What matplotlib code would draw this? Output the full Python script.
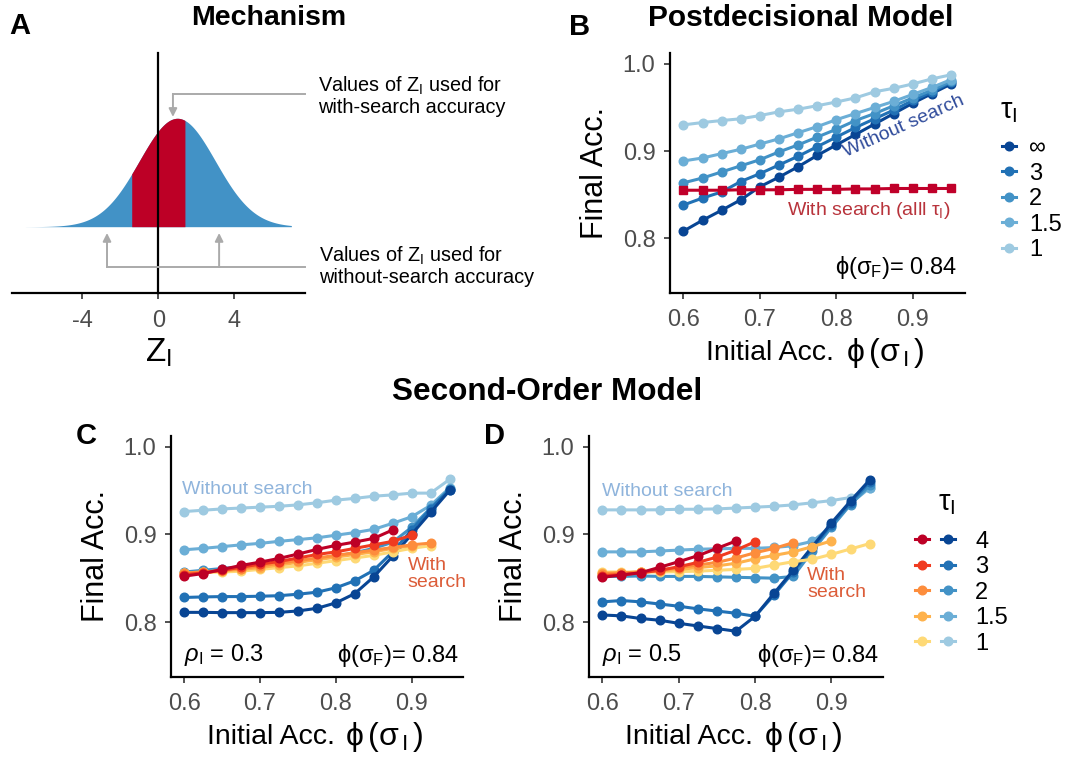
import numpy as np
import matplotlib.pyplot as plt
from matplotlib.lines import Line2D
from matplotlib.legend_handler import HandlerTuple

plt.rcParams['font.family'] = ['Liberation Sans', 'DejaVu Sans']
plt.rcParams['mathtext.fontset'] = 'custom'
plt.rcParams['mathtext.rm'] = 'Liberation Sans'
plt.rcParams['mathtext.it'] = 'Liberation Sans:italic'
plt.rcParams['mathtext.bf'] = 'Liberation Sans:bold'

W, H = 1074, 759

# ---- data ----
init_acc = [0.6, 0.625, 0.65, 0.675, 0.7, 0.725, 0.75, 0.775,
            0.8, 0.825, 0.85, 0.875, 0.9, 0.925, 0.95]

# mechanism sketch: distribution of Z_I and the with-search band
z_mean, z_sd = 1.0, 2.0
z_lo, z_hi = -7.0, 7.0
band_lo, band_hi = -1.4, 1.4

# postdecisional model
tau_post = ['∞', '3', '2', '1.5', '1']
post_tau_inf = [0.808, 0.8205, 0.832, 0.844, 0.859, 0.870, 0.882, 0.895,
                0.907, 0.919, 0.931, 0.943, 0.955, 0.966, 0.977]
post_tau_3 = [0.838, 0.846, 0.853, 0.865, 0.874, 0.884, 0.894, 0.905,
              0.916, 0.927, 0.937, 0.947, 0.958, 0.968, 0.979]
post_tau_2 = [0.8635, 0.869, 0.876, 0.883, 0.890, 0.899, 0.907, 0.916,
              0.925, 0.935, 0.943, 0.952, 0.961, 0.970, 0.980]
post_tau_15 = [0.8886, 0.892, 0.897, 0.902, 0.908, 0.914, 0.921, 0.928,
               0.936, 0.943, 0.950, 0.957, 0.965, 0.973, 0.982]
post_tau_1 = [0.930, 0.9327, 0.935, 0.937, 0.9407, 0.945, 0.948, 0.952,
              0.9563, 0.961, 0.968, 0.972, 0.977, 0.9828, 0.9875]
post_search = [0.855, 0.855, 0.855, 0.8555, 0.8555, 0.8555, 0.856, 0.856,
               0.856, 0.8565, 0.8565, 0.857, 0.857, 0.857, 0.857]

# second-order model
tau_second = ['4', '3', '2', '1.5', '1']
c_nosearch_4 = [0.811, 0.811, 0.8107, 0.8107, 0.8107, 0.811, 0.8126, 0.8156,
                0.8218, 0.8324, 0.8515, 0.875, 0.900, 0.925, 0.950]
c_nosearch_3 = [0.828, 0.8286, 0.829, 0.829, 0.8294, 0.830, 0.8317, 0.834,
                0.839, 0.847, 0.859, 0.880, 0.905, 0.929, 0.951]
c_nosearch_2 = [0.857, 0.859, 0.861, 0.863, 0.865, 0.867, 0.869, 0.872,
                0.875, 0.879, 0.884, 0.891, 0.908, 0.930, 0.952]
c_nosearch_15 = [0.8824, 0.884, 0.886, 0.888, 0.8897, 0.892, 0.894, 0.896,
                 0.899, 0.902, 0.9057, 0.9126, 0.920, 0.933, 0.953]
c_nosearch_1 = [0.926, 0.9275, 0.929, 0.930, 0.931, 0.932, 0.9336, 0.936,
                0.939, 0.941, 0.9435, 0.945, 0.947, 0.947, 0.9626]
c_search_4 = [0.8523, 0.8553, 0.860, 0.8645, 0.8683, 0.8725, 0.8775, 0.8828,
              0.8874, 0.8912, 0.8954, 0.905]
c_search_3 = [0.854, 0.856, 0.859, 0.8625, 0.866, 0.869, 0.873, 0.877,
              0.880, 0.884, 0.888, 0.892, 0.899]
c_search_2 = [0.856, 0.857, 0.859, 0.861, 0.864, 0.867, 0.870, 0.873,
              0.876, 0.879, 0.882, 0.885, 0.888, 0.890]
c_search_15 = [0.856, 0.857, 0.858, 0.860, 0.862, 0.865, 0.868, 0.871,
               0.874, 0.877, 0.880, 0.884, 0.887]
c_search_1 = [0.856, 0.8565, 0.857, 0.858, 0.860, 0.862, 0.864, 0.867,
              0.870, 0.873, 0.876, 0.880, 0.884, 0.887]

d_nosearch_4 = [0.808, 0.807, 0.804, 0.802, 0.7985, 0.7955, 0.7925, 0.7895,
                0.8065, 0.833, 0.859, 0.886, 0.913, 0.938, 0.962]
d_nosearch_3 = [0.823, 0.8245, 0.823, 0.8205, 0.818, 0.815, 0.8125, 0.810,
                0.8065, 0.831, 0.857, 0.884, 0.911, 0.936, 0.960]
d_nosearch_2 = [0.852, 0.852, 0.8525, 0.852, 0.852, 0.852, 0.8515, 0.851,
                0.8505, 0.850, 0.852, 0.881, 0.908, 0.934, 0.956]
d_nosearch_15 = [0.880, 0.880, 0.880, 0.881, 0.882, 0.883, 0.8835, 0.884,
                 0.884, 0.885, 0.887, 0.892, 0.909, 0.935, 0.953]
d_nosearch_1 = [0.9279, 0.9279, 0.9279, 0.928, 0.9286, 0.9286, 0.929, 0.930,
                0.931, 0.932, 0.9336, 0.936, 0.9385, 0.942, 0.953]
d_search_4 = [0.851, 0.8536, 0.8562, 0.8624, 0.8688, 0.8756, 0.884, 0.8924]
d_search_3 = [0.853, 0.854, 0.856, 0.859, 0.863, 0.868, 0.874, 0.882, 0.8916]
d_search_2 = [0.855, 0.856, 0.857, 0.859, 0.862, 0.865, 0.868, 0.873,
              0.879, 0.884, 0.8905]
d_search_15 = [0.856, 0.856, 0.857, 0.858, 0.860, 0.862, 0.864, 0.867,
               0.872, 0.876, 0.880, 0.886, 0.8925]
d_search_1 = [0.857, 0.857, 0.857, 0.857, 0.8575, 0.858, 0.859, 0.860,
              0.8612, 0.865, 0.8688, 0.8715, 0.8772, 0.8833, 0.8894]

blues = ['#084594', '#2171b5', '#4292c6', '#6baed6', '#9ecae1']
reds = ['#bd0026', '#f03b20', '#fd8d3c', '#feb24c', '#fed976']

fig = plt.figure(figsize=(10.74, 7.59), dpi=100)


def px_axes(left, top, right, bottom):
    return fig.add_axes([left / W, 1 - bottom / H, (right - left) / W, (bottom - top) / H])


def fx(x):
    return x / W


def fy(y):
    return 1 - y / H


def style_acc(ax):
    ax.set_xlim(0.5825, 0.9675)
    ax.set_ylim(0.7375, 1.0125)
    for s in ['top', 'right']:
        ax.spines[s].set_visible(False)
    for s in ['left', 'bottom']:
        ax.spines[s].set_linewidth(1.6)
        ax.spines[s].set_color('black')
    ax.set_xticks([0.6, 0.7, 0.8, 0.9])
    ax.set_xticklabels(['0.6', '0.7', '0.8', '0.9'])
    ax.set_yticks([0.8, 0.9, 1.0])
    ax.set_yticklabels(['0.8', '0.9', '1.0'])
    ax.tick_params(length=4.5, width=1.2, color='#333333', labelsize=17,
                   labelcolor='#4d4d4d')
    ax.tick_params(axis='x', pad=7.5)
    ax.tick_params(axis='y', pad=6)
    ax.set_ylabel('Final Acc.', fontsize=22, labelpad=9)
    # x title: plain words, then the symbol part a bit wider
    ax.text(36 / 293.5, -0.25, 'Initial Acc.', fontsize=20.5, ha='left',
            va='center', transform=ax.transAxes)
    ax.text(175 / 293.5, -0.25, 'ϕ$\\,$(σ$_{\\,\\mathrm{I}}\\,$)', fontsize=23,
            ha='left', va='center', transform=ax.transAxes)


def draw_line(ax, x, y, color, marker='o', ms=6.2, z=2):
    ax.plot(x[:len(y)], y, color=color, lw=2.2, marker=marker, ms=ms,
            mec=color, mfc=color, zorder=z, clip_on=False)


# ---- A: mechanism ----
axA = px_axes(12, 40, 305, 293)
z = np.linspace(z_lo, z_hi, 500)
dens = np.exp(-0.5 * ((z - z_mean) / z_sd) ** 2) / (z_sd * np.sqrt(2 * np.pi))
axA.fill_between(z, 0, dens, color='#4292c6', lw=0)
zb = np.linspace(band_lo, band_hi, 200)
densb = np.exp(-0.5 * ((zb - z_mean) / z_sd) ** 2) / (z_sd * np.sqrt(2 * np.pi))
axA.fill_between(zb, 0, densb, color='#bd0026', lw=0)
axA.plot([0, 0], [-0.122, 0.3195], color='black', lw=1.6, clip_on=False)
axA.set_xlim(-7.7, 7.72)
axA.set_ylim(-0.122, 0.3435)
for s in ['top', 'right', 'left']:
    axA.spines[s].set_visible(False)
axA.spines['bottom'].set_linewidth(1.6)
axA.set_yticks([])
axA.set_xticks([-4, 0, 4])
axA.set_xticklabels(['-4', '0', '4'])
axA.tick_params(axis='x', length=4.5, width=1.2, color='#333333', labelsize=17,
                labelcolor='#4d4d4d', pad=7.5)
axA.text(0.5, -0.235, 'Z$_\\mathrm{I}$', fontsize=24, ha='center', va='center',
         transform=axA.transAxes)

grey = '#aaaaaa'
arrow = dict(arrowstyle='-|>', color=grey, lw=1.4, mutation_scale=12,
             shrinkA=0, shrinkB=0)
axA.plot([7.72, 0.77], [0.2442, 0.2442], color=grey, lw=1.4, clip_on=False)
axA.annotate('', xy=(0.77, 0.2020), xytext=(0.77, 0.2442), arrowprops=arrow)
axA.plot([-2.7, 7.72], [-0.0742, -0.0742], color=grey, lw=1.4, clip_on=False)
axA.annotate('', xy=(-2.7, -0.0116), xytext=(-2.7, -0.0742), arrowprops=arrow)
axA.annotate('', xy=(3.2, -0.0116), xytext=(3.2, -0.0742), arrowprops=arrow)

fig.text(fx(318), fy(96), 'Values of Z$_\\mathrm{I}$ used for\nwith-search accuracy',
         fontsize=14.3, ha='left', va='center', linespacing=1.1)
fig.text(fx(319), fy(266), 'Values of Z$_\\mathrm{I}$ used for\nwithout-search accuracy',
         fontsize=14.3, ha='left', va='center', linespacing=1.1)

# ---- B: postdecisional model ----
axB = px_axes(670, 53, 964.5, 292.6)
style_acc(axB)
post_lines = [post_tau_inf, post_tau_3, post_tau_2, post_tau_15, post_tau_1]
for vals, col in zip(post_lines, blues):
    draw_line(axB, init_acc, vals, col)
draw_line(axB, init_acc, post_search, '#c0002a', marker='s', ms=5.8, z=3)
axB.text(0.888, 0.928, 'Without search', color='#2f4b9b', fontsize=14,
         rotation=24, ha='center', va='center', rotation_mode='anchor')
axB.text(0.843, 0.8316, 'With search (alll τ$_\\mathrm{I}$)', color='#b8333b',
         fontsize=14, ha='center', va='center')
axB.text(0.958, 0.766, 'ϕ(σ$_\\mathrm{F}$)= 0.84', fontsize=17,
         ha='right', va='center')

handles_b = [Line2D([], [], color=c, lw=2.2, marker='o', ms=6.2) for c in blues]
axB.legend(handles_b, tau_post, loc='upper left',
           bbox_to_anchor=(fx(1002), fy(137)), bbox_transform=fig.transFigure,
           frameon=False, fontsize=17, handlelength=0.6, handletextpad=0.55,
           labelspacing=0.15, borderpad=0, borderaxespad=0)
fig.text(fx(1000), fy(111), 'τ$_\\mathrm{I}$', fontsize=21, ha='left', va='center')

# ---- C / D: second-order model ----
axC = px_axes(171, 435.7, 462.8, 676.8)
axD = px_axes(589, 435.7, 883, 676.8)

c_blue = [c_nosearch_4, c_nosearch_3, c_nosearch_2, c_nosearch_15, c_nosearch_1]
c_red = [c_search_4, c_search_3, c_search_2, c_search_15, c_search_1]
d_blue = [d_nosearch_4, d_nosearch_3, d_nosearch_2, d_nosearch_15, d_nosearch_1]
d_red = [d_search_4, d_search_3, d_search_2, d_search_15, d_search_1]

for ax, blue_sets, red_sets, rho in [(axC, c_blue, c_red, '0.3'),
                                     (axD, d_blue, d_red, '0.5')]:
    style_acc(ax)
    for vals, col in list(zip(blue_sets, blues))[::-1]:
        draw_line(ax, init_acc, vals, col)
    for vals, col in list(zip(red_sets, reds))[::-1]:
        draw_line(ax, init_acc, vals, col, z=3)
    ax.text(0.6, 0.762, '$\\rho_\\mathrm{I}$ = ' + rho, fontsize=17,
            ha='left', va='center')
    ax.text(0.962, 0.762, 'ϕ(σ$_\\mathrm{F}$)= 0.84', fontsize=17,
            ha='right', va='center')

axC.text(0.597, 0.951, 'Without search', color='#8fb4dc', fontsize=14,
         ha='left', va='center')
axC.text(0.895, 0.8545, 'With\nsearch', color='#dc5c38', fontsize=14,
         ha='left', va='center', linespacing=1.0)
axD.text(0.6, 0.9485, 'Without search', color='#8fb4dc', fontsize=14,
         ha='left', va='center')
axD.text(0.868, 0.843, 'With\nsearch', color='#dc5c38', fontsize=14,
         ha='left', va='center', linespacing=1.0)

handles_cd = [(Line2D([], [], color=r, lw=2.2, marker='o', ms=6.2),
               Line2D([], [], color=b, lw=2.2, marker='o', ms=6.2))
              for r, b in zip(reds, blues)]
axD.legend(handles_cd, tau_second, loc='upper left',
           bbox_to_anchor=(fx(915), fy(530.5)), bbox_transform=fig.transFigure,
           frameon=False, fontsize=17, handlelength=1.7, handletextpad=0.85,
           labelspacing=0.15, borderpad=0, borderaxespad=0,
           handler_map={tuple: HandlerTuple(ndivide=None, pad=0.48)})
fig.text(fx(938), fy(503), 'τ$_\\mathrm{I}$', fontsize=21, ha='left', va='center')

# ---- titles and panel letters ----
fig.text(fx(269), fy(18), 'Mechanism', fontsize=20.5, fontweight='bold',
         ha='center', va='center')
fig.text(fx(801), fy(18), 'Postdecisional Model', fontsize=21.5, fontweight='bold',
         ha='center', va='center')
fig.text(fx(547), fy(392), 'Second-Order Model', fontsize=22.7, fontweight='bold',
         ha='center', va='center')
for letter, (x, y) in {'A': (20, 26), 'B': (580, 27), 'C': (86, 436),
                       'D': (494, 436)}.items():
    fig.text(fx(x), fy(y), letter, fontsize=21, fontweight='bold',
             ha='center', va='center')

fig.savefig('out.png', dpi=100)
